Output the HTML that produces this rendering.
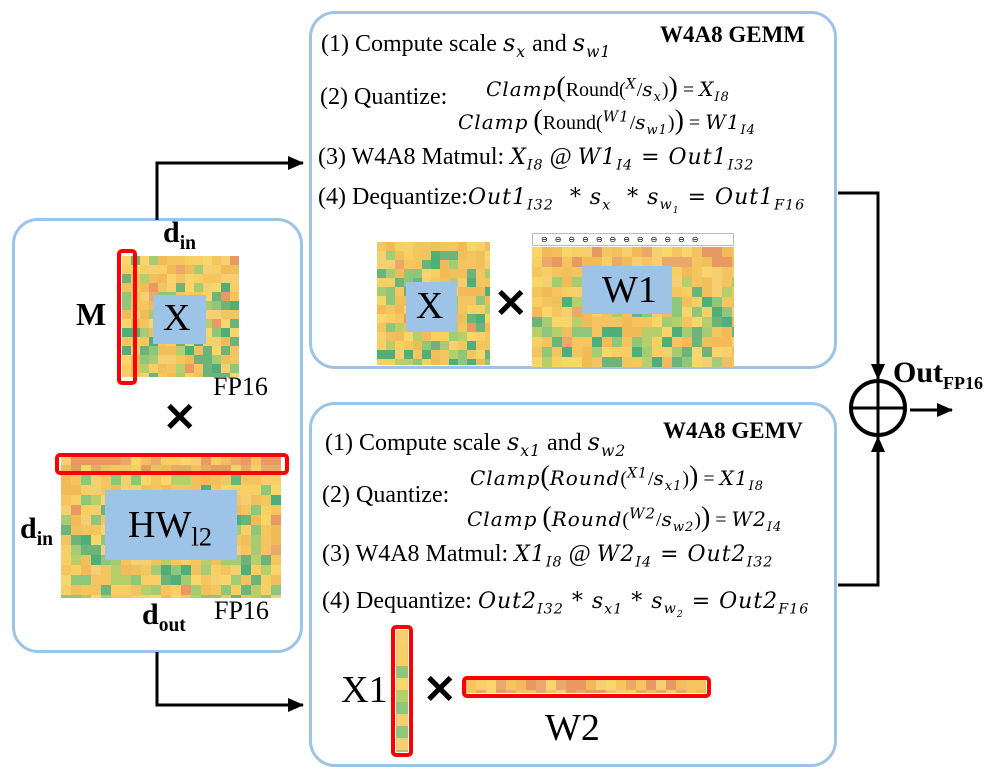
<!DOCTYPE html>
<html><head><meta charset="utf-8">
<style>
body{margin:0;background:#fff;width:996px;height:778px;overflow:hidden;position:relative;font-family:"Liberation Serif",serif;}
.box{position:absolute;border:3px solid #9dc3e6;border-radius:26px;box-sizing:border-box;}
.t{position:absolute;white-space:nowrap;color:#000;}
.m{font-family:"DejaVu Serif","Liberation Serif",serif;font-style:italic;letter-spacing:1px;}
.hm{position:absolute;overflow:hidden;}
.patch{position:absolute;background:#9dc3e6;}
.red{position:absolute;border:4px solid #f00;border-radius:5px;box-sizing:border-box;}
sub{font-size:65%;}
</style></head><body>
<div class="box" style="left:12px;top:218px;width:291px;height:435px"></div>
<div class="box" style="left:309px;top:11px;width:528px;height:358px"></div>
<div class="box" style="left:309px;top:402px;width:528px;height:365px"></div>

<svg width="996" height="778" style="position:absolute;left:0;top:0">
<defs><marker id="b" markerWidth="16" markerHeight="14" refX="15" refY="7" orient="auto" markerUnits="userSpaceOnUse"><path d="M0,0 L16,7 L0,14z"/></marker></defs>
<polyline points="157,220 157,163 303,163" fill="none" stroke="#000" stroke-width="3" marker-end="url(#b)"/>
<polyline points="157,652 157,705 303,705" fill="none" stroke="#000" stroke-width="3" marker-end="url(#b)"/>
<polyline points="838,193 878,193 878,379" fill="none" stroke="#000" stroke-width="3" marker-end="url(#b)"/>
<polyline points="838,585 878,585 878,437" fill="none" stroke="#000" stroke-width="3" marker-end="url(#b)"/>
<circle cx="878" cy="408" r="27" fill="none" stroke="#000" stroke-width="4"/>
<line x1="851" y1="408" x2="905" y2="408" stroke="#000" stroke-width="3"/>
<line x1="878" y1="381" x2="878" y2="435" stroke="#000" stroke-width="3"/>
<line x1="910" y1="410" x2="952" y2="410" stroke="#000" stroke-width="3" marker-end="url(#b)"/>
</svg>

<!-- left -->
<div class="hm" id="h1" style="left:122px;top:256px;width:117px;height:121px"></div>
<div class="patch" style="left:153px;top:295px;width:53px;height:49px"></div>
<div class="t" style="left:163px;top:296px;font-size:38px">X</div>
<div class="red" style="left:117px;top:249px;width:20px;height:136px"></div>
<div class="t" style="left:163px;top:216px;font-size:30px;font-weight:bold">d<sub>in</sub></div>
<div class="t" style="left:76px;top:296px;font-size:32px;font-weight:bold">M</div>
<div class="t" style="left:213px;top:372px;font-size:26px">FP16</div>
<div class="t" style="left:163px;top:394px;font-size:40px;font-weight:bold">✕</div>
<div class="hm" id="h2" style="left:61px;top:455px;width:220px;height:143px"></div>
<div class="patch" style="left:105px;top:490px;width:132px;height:70px"></div>
<div class="t" style="left:128px;top:503px;font-size:38px">HW<sub style="font-size:70%">l2</sub></div>
<div class="red" style="left:55px;top:453px;width:234px;height:22px"></div>
<div class="t" style="left:20px;top:512px;font-size:30px;font-weight:bold">d<sub>in</sub></div>
<div class="t" style="left:142px;top:598px;font-size:30px;font-weight:bold">d<sub>out</sub></div>
<div class="t" style="left:214px;top:596px;font-size:26px">FP16</div>

<!-- top box -->
<div class="t" style="left:660px;top:22px;font-size:23px;font-weight:bold">W4A8 GEMM</div>
<div class="t" style="left:321px;top:29px;font-size:24px">(1) Compute scale <span class="m">s<sub>x</sub></span> and <span class="m">s<sub>w1</sub></span></div>
<div class="t" style="left:320px;top:84px;font-size:24px">(2) Quantize:</div>
<div class="t" style="left:486px;top:72px;font-size:20px"><span class="m">Clamp</span><span style="font-size:28px">(</span>Round(<sup class="m" style="font-size:14px">X</sup>/<span class="m">s<sub>x</sub></span>)<span style="font-size:28px">)</span> = <span class="m">X<sub>I8</sub></span></div>
<div class="t" style="left:458px;top:105px;font-size:20px"><span class="m">Clamp</span> <span style="font-size:28px">(</span>Round(<sup class="m" style="font-size:15px">W1</sup>/<span class="m">s<sub>w1</sub></span>)<span style="font-size:28px">)</span> = <span class="m">W1<sub>I4</sub></span></div>
<div class="t" style="left:318px;top:144px;font-size:24px">(3) W4A8 Matmul: <span class="m" style="font-size:22px">X<sub>I8</sub></span> @ <span class="m" style="font-size:22px">W1<sub>I4</sub> = Out1<sub>I32</sub></span></div>
<div class="t" style="left:318px;top:184px;font-size:24px">(4) Dequantize:<span class="m" style="font-size:22px">Out1<sub>I32</sub> &nbsp;* s<sub>x</sub> &nbsp;* s<sub>w<sub>1</sub></sub> = Out1<sub>F16</sub></span></div>
<div class="hm" id="h3" style="left:377px;top:242px;width:113px;height:123px"></div>
<div class="patch" style="left:406px;top:282px;width:51px;height:50px"></div>
<div class="t" style="left:416px;top:284px;font-size:38px">X</div>
<div class="t" style="left:494px;top:280px;font-size:40px;font-weight:bold">✕</div>
<div class="hm" id="h4" style="left:532px;top:247px;width:202px;height:120px"></div>
<div style="position:absolute;left:532px;top:233px;width:202px;height:13px;background:#fff;border:1px solid #bbb;box-sizing:border-box;font-size:8px;line-height:11px;letter-spacing:7px;padding-left:8px;white-space:nowrap;overflow:hidden">⊖⊖⊖⊖⊖⊖⊖⊖⊖⊖⊖⊖</div>
<div class="patch" style="left:582px;top:266px;width:90px;height:48px"></div>
<div class="t" style="left:602px;top:268px;font-size:38px">W1</div>

<!-- bottom box -->
<div class="t" style="left:663px;top:418px;font-size:23px;font-weight:bold">W4A8 GEMV</div>
<div class="t" style="left:325px;top:428px;font-size:24px">(1) Compute scale <span class="m">s<sub>x1</sub></span> and <span class="m">s<sub>w2</sub></span></div>
<div class="t" style="left:322px;top:482px;font-size:24px">(2) Quantize:</div>
<div class="t" style="left:470px;top:461px;font-size:20px"><span class="m">Clamp</span><span style="font-size:28px">(</span><span class="m">Round</span>(<sup class="m" style="font-size:14px">X1</sup>/<span class="m">s<sub>x1</sub></span>)<span style="font-size:28px">)</span> = <span class="m">X1<sub>I8</sub></span></div>
<div class="t" style="left:467px;top:502px;font-size:20px"><span class="m">Clamp</span> <span style="font-size:28px">(</span><span class="m">Round</span>(<sup class="m" style="font-size:15px">W2</sup>/<span class="m">s<sub>w2</sub></span>)<span style="font-size:28px">)</span> = <span class="m">W2<sub>I4</sub></span></div>
<div class="t" style="left:322px;top:541px;font-size:24px">(3) W4A8 Matmul: <span class="m" style="font-size:22px">X1<sub>I8</sub></span> @ <span class="m" style="font-size:22px">W2<sub>I4</sub> = Out2<sub>I32</sub></span></div>
<div class="t" style="left:322px;top:588px;font-size:24px">(4) Dequantize: <span class="m" style="font-size:22px">Out2<sub>I32</sub> * s<sub>x1</sub> * s<sub>w<sub>2</sub></sub> = Out2<sub>F16</sub></span></div>
<div class="hm" id="h5" style="left:396px;top:630px;width:12px;height:122px"></div>
<div class="red" style="left:391px;top:625px;width:22px;height:132px"></div>
<div class="t" style="left:341px;top:668px;font-size:38px">X1</div>
<div class="t" style="left:423px;top:666px;font-size:40px;font-weight:bold">✕</div>
<div class="hm" id="h6" style="left:466px;top:680px;width:240px;height:13px"></div>
<div class="red" style="left:462px;top:676px;width:249px;height:22px"></div>
<div class="t" style="left:545px;top:706px;font-size:38px">W2</div>

<div class="t" style="left:893px;top:356px;font-size:30px;font-weight:bold">Out<sub style="font-size:60%">FP16</sub></div>

<script>
var Y=['#f5c65e','#f7cf63','#f2bb58','#f8d66a','#f0c05c','#f4c460','#f6d070'],G=['#8fc77a','#6db47a','#b7cf6a','#4fae7a','#a5cc72'],R=['#e99a63','#eaa86a'];
var seed=7;function rnd(){seed=(seed*9301+49297)%233280;return seed/233280;}
function fill(id,cs,gp,rp,topRed){var e=document.getElementById(id);var w=e.offsetWidth,h=e.offsetHeight;var h2='';
for(var y=0;y<h;y+=cs)for(var x=0;x<w;x+=cs){var r=rnd(),c;var g=gp*(0.4+1.2*y/h);
if(topRed&&y<cs*1.5)c=r<0.4?R[Math.floor(rnd()*2)]:Y[Math.floor(rnd()*7)];
else c=r<g?G[Math.floor(rnd()*5)]:(r<g+rp?R[Math.floor(rnd()*2)]:Y[Math.floor(rnd()*7)]);
h2+='<div style="position:absolute;left:'+x+'px;top:'+y+'px;width:'+cs+'px;height:'+cs+'px;background:'+c+'"></div>';}
e.innerHTML=h2;}
fill('h1',9,0.3,0.02);fill('h2',10,0.32,0.02,true);fill('h3',9,0.3,0.02);fill('h4',10,0.3,0.02,true);fill('h5',12,0.35,0);fill('h6',10,0,0.45);
</script>
</body></html>
